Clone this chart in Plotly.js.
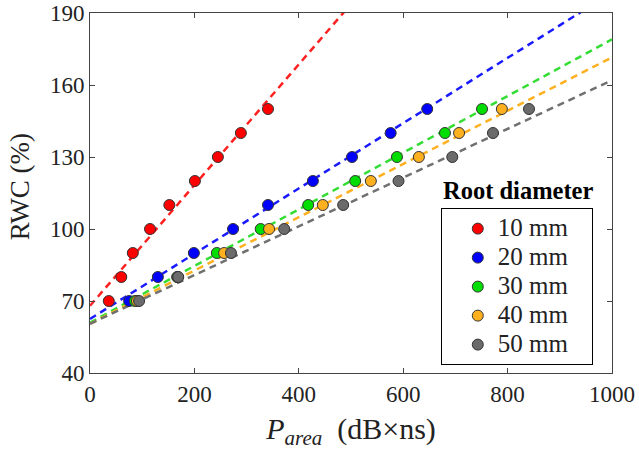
<!DOCTYPE html>
<html>
<head>
<meta charset="utf-8">
<script src="https://cdn.plot.ly/plotly-3.0.1.min.js"></script>
<style>html,body{margin:0;padding:0;background:#fff;}#chart{width:639px;height:462px;}</style>
</head>
<body>
<div id="chart"></div>
<script>
// RWC levels (%) shared by every series
const rwcLevels = [70, 80, 90, 100, 110, 120, 130, 140, 150];
// P_area (dB×ns) for each root diameter
const parea10 = [36, 60, 82, 115, 152, 201, 245, 289, 341];
const parea20 = [75, 130, 199, 274, 341, 427, 502, 576, 646];
const parea30 = [86, 167, 243, 327, 418, 508, 588, 680, 751];
const parea40 = [90, 168, 257, 343, 446, 538, 630, 707, 789];
const parea50 = [94, 169, 270, 372, 485, 591, 694, 772, 841];
// Linear fit parameters
const fitIntercept = [68, 62.5, 61, 60.5, 60.5];
const fitSlope = [0.2515, 0.136, 0.118, 0.111, 0.1015];
const seriesNames = ['10 mm', '20 mm', '30 mm', '40 mm', '50 mm'];
const legendTitle = 'Root diameter';
const yTitle = 'RWC (%)';
const xTitle = '<i>P</i><sub><i>area</i></sub>  (dB×ns)';
const xTicks = [0, 200, 400, 600, 800, 1000];
const yTicks = [40, 70, 100, 130, 160, 190];

const seriesX = [parea10, parea20, parea30, parea40, parea50];
const colors = ['#ff0000', '#0000ff', '#00dd00', '#ffb01f', '#6b6b6b'];
const lineColors = ['#ff2020', '#1a1aff', '#33dd33', '#ffb020', '#707070'];
const fitX = [0, 1000];
const pad = '\u00a0\u00a0\u00a0';

const traces = [];
for (let i = 0; i < 5; i++) {
  traces.push({
    x: fitX,
    y: fitX.map(v => fitIntercept[i] + fitSlope[i] * v),
    mode: 'lines',
    line: {color: lineColors[i], width: 2.5, dash: '7px,5px'},
    showlegend: false,
    hoverinfo: 'skip'
  });
}
for (let i = 0; i < 5; i++) {
  traces.push({
    x: seriesX[i],
    y: rwcLevels,
    mode: 'markers',
    name: '<span style="font-size:25px">' + seriesNames[i] + pad + '</span>',
    marker: {color: colors[i], size: 11, line: {color: '#333', width: 1}}
  });
}

const fam = '"Liberation Serif", "Times New Roman", serif';
const font = {family: fam, color: '#222'};
const layout = {
  width: 639, height: 462,
  margin: {l: 90, r: 27, t: 13, b: 89},
  paper_bgcolor: '#fff', plot_bgcolor: '#fff',
  font: Object.assign({size: 20}, font),
  showlegend: true,
  xaxis: {
    range: [0, 1000], tickvals: xTicks, ticktext: xTicks.map(String),
    ticks: 'inside', ticklen: 5, tickcolor: '#444', tickwidth: 1,
    showline: true, linecolor: '#444', linewidth: 1, mirror: 'ticks',
    showgrid: false, zeroline: false,
    tickfont: Object.assign({size: 23}, font),
    title: {text: xTitle, font: Object.assign({size: 30}, font), standoff: 12}
  },
  yaxis: {
    range: [40, 190], tickvals: yTicks, ticktext: yTicks.map(String),
    ticks: 'inside', ticklen: 5, tickcolor: '#444', tickwidth: 1,
    showline: true, linecolor: '#444', linewidth: 1, mirror: 'ticks',
    showgrid: false, zeroline: false,
    tickfont: Object.assign({size: 23}, font)
  },
  legend: {
    x: 0.672, y: 0.458, xanchor: 'left', yanchor: 'top',
    bordercolor: '#000', borderwidth: 1, bgcolor: '#fff',
    font: Object.assign({size: 20}, font),
    indentation: 16
  },
  annotations: [{
    xref: 'paper', yref: 'paper', x: 0.82, y: 0.508, xanchor: 'center', yanchor: 'middle',
    text: '<b>' + legendTitle + '</b>', showarrow: false,
    font: {family: fam, size: 24.5, color: '#000'}
  }, {
    xref: 'paper', yref: 'paper', x: -0.134, y: 0.516, xanchor: 'center', yanchor: 'middle',
    text: yTitle, textangle: -90, showarrow: false,
    font: Object.assign({size: 27}, font)
  }]
};
Plotly.newPlot('chart', traces, layout, {displayModeBar: false, staticPlot: true});
</script>
</body>
</html>
